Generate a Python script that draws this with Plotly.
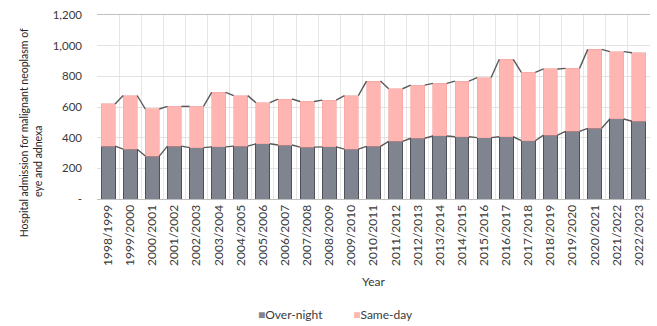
import plotly.graph_objects as go

# Financial years
years = ["1998/1999", "1999/2000", "2000/2001", "2001/2002", "2002/2003",
         "2003/2004", "2004/2005", "2005/2006", "2006/2007", "2007/2008",
         "2008/2009", "2009/2010", "2010/2011", "2011/2012", "2012/2013",
         "2013/2014", "2014/2015", "2015/2016", "2016/2017", "2017/2018",
         "2018/2019", "2019/2020", "2020/2021", "2021/2022", "2022/2023"]

# Admissions by type
overnight = [345, 325, 280, 345, 335, 340, 345, 360, 352, 338,
             340, 325, 343, 376, 396, 411, 406, 400, 406, 380,
             417, 441, 461, 522, 507]
sameday = [275, 350, 307, 259, 269, 356, 329, 268, 300, 298,
           305, 349, 426, 343, 347, 343, 363, 391, 505, 446,
           431, 411, 515, 439, 447]

y_ticks = [0, 200, 400, 600, 800, 1000, 1200]
y_ticktext = ["-", "200", "400", "600", "800", "1,000", "1,200"]
y_title_lines = ["Hospital admission for malignant neoplasm of", "eye and adnexa"]

FONT = "Lato"
TXT = "#3a3a3a"
C_NIGHT = "#80848f"
C_DAY = "#ffb6b2"
BAR_W = 0.63
pos = list(range(len(years)))
totals = [a + b for a, b in zip(overnight, sameday)]

fig = go.Figure()
fig.add_trace(go.Bar(x=pos, y=overnight, name="Over-night", width=BAR_W,
                     marker=dict(color=C_NIGHT, line=dict(color="#4f525a", width=1))))
fig.add_trace(go.Bar(x=pos, y=sameday, name="Same-day", width=BAR_W,
                     marker=dict(color=C_DAY, line=dict(color="#f3a3a0", width=0.6))))


def series_lines(tops):
    """Connector segments joining the top edges of neighbouring bars."""
    xs, ys = [], []
    for i in range(len(tops) - 1):
        xs += [pos[i] + BAR_W / 2, pos[i + 1] - BAR_W / 2, None]
        ys += [tops[i], tops[i + 1], None]
    return xs, ys


for tops in (overnight, totals):
    sx, sy = series_lines(tops)
    fig.add_trace(go.Scatter(x=sx, y=sy, mode="lines", showlegend=False,
                             hoverinfo="skip",
                             line=dict(color="#595959", width=1.4)))

legend_text = (f'<span style="color:{C_NIGHT}">■</span>Over-night'
               + "&nbsp;" * 10
               + f'<span style="color:{C_DAY}">■</span>Same-day')

# Two-line rotated axis title, one annotation per line
title_annotations = [
    dict(text=line, textangle=-90, xref="paper", yref="paper",
         x=xp, y=yp, xanchor="center", yanchor="middle", showarrow=False,
         font=dict(size=10.5, color="#262626", family=FONT))
    for line, xp, yp in zip(y_title_lines, (-0.132, -0.107), (0.357, 0.206))
]

fig.update_layout(
    width=657, height=326,
    margin=dict(l=97, r=7, t=15, b=127),
    barmode="stack",
    showlegend=False,
    plot_bgcolor="white", paper_bgcolor="white",
    font=dict(family=FONT, size=11.5, color=TXT),
    xaxis=dict(
        range=[-0.5, len(years) - 0.5],
        tickmode="array", tickvals=pos, ticktext=years, tickangle=-90,
        tickfont=dict(size=12, color=TXT),
        showgrid=False, zeroline=False,
        showline=True, linecolor="#bfbfbf", linewidth=1, mirror=True,
        minor=dict(tick0=-0.5, dtick=1, showgrid=True, gridcolor="#e6e6e6", gridwidth=1),
        title=dict(text="Year", font=dict(size=12, color=TXT), standoff=12),
    ),
    yaxis=dict(
        range=[0, 1200],
        tickmode="array", tickvals=y_ticks, ticktext=y_ticktext,
        tickfont=dict(size=11.5, color=TXT),
        showgrid=True, gridcolor="#e2e2e2", gridwidth=1,
        zeroline=False, showline=False, ticks="", ticklabelstandoff=14,
    ),
    annotations=title_annotations + [
        dict(text=legend_text, xref="paper", yref="paper", x=0.431, y=-0.625,
             xanchor="center", yanchor="middle", showarrow=False,
             font=dict(size=12, color=TXT, family=FONT)),
    ],
)

fig.write_html("out.html")
